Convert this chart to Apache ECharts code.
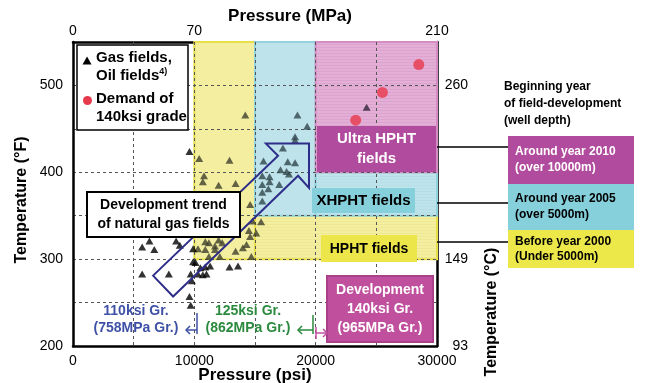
<!DOCTYPE html>
<html><head><meta charset="utf-8">
<script src="https://cdn.jsdelivr.net/npm/echarts@6/dist/echarts.min.js"></script>
<style>html,body{margin:0;padding:0;background:#fff}#c{width:653px;height:383px}</style>
</head><body><div id="c"></div>
<script>
// ---------- DATA ----------
const gasFieldPsi = [9600,10400,12900,14200,10800,10700,12000,13400,14600,
  18500,19300,18300,18300,17300,15700,17700,18300,17100,17600,17800,16200,15600,16200,17000,15600,16100,15600,15600,
  14800,15500,14500,15100,14600,14300,14000,14700,13400,12100,10900,11200,12000,12300,11700,10300,10900,11700,11200,
  9900,5700,6300,6700,8500,8800,5700,7900,9700,10300,11000,9800,9900,10500,10900,11300,12900,13600,9600,9700,10700,10100,
  24200];
const gasFieldTempF = [424,416,414,466,396,389,385,387,363,
  466,453,441,437,428,413,412,411,403,401,398,395,396,389,386,386,381,377,367,
  344,343,333,330,326,317,313,303,309,303,320,319,322,319,315,312,311,311,303,
  312,314,321,311,321,316,283,283,283,283,283,275,297,290,291,292,291,292,257,247,282,296,
  475];
const demandPsi = [28500,25500,23300];
const demandTempF = [524,492,460];

const psiTickAt = [0,10000,20000,30000];
const psiTickLabels = ['0','10000','20000','30000'];
const mpaTickAt = [0,10000,30000];
const mpaTickLabels = ['0','70','210'];
const tempFTickAt = [200,300,400,500];
const tempFTickLabels = ['200','300','400','500'];
const tempCTickAt = [200,300,500];
const tempCTickLabels = ['93','149','260'];

// field zones (psi / degF)
const zoneNames     = ['HPHT','HPHT','XHPHT','XHPHT','Ultra HPHT'];
const zonePsiFrom   = [10000,15000,15000,20000,20000];
const zonePsiTo     = [15000,30000,20000,30000,30000];
const zoneTempFrom  = [300,300,350,350,400];
const zoneTempTo    = [550,350,550,400,550];
const zoneStriped   = [false,true,false,true,true];

// development-trend arrow outline (psi / degF)
const trendPsi   = [6600,16900,15900,19450,19450,18550,8250];
const trendTempF = [281,419,433,433,382,396,257];

// ---------- STYLE ----------
const FONT = 'Liberation Sans, Arial, sans-serif';
const zoneFill   = {'HPHT':'#f4efa0','XHPHT':'#bfe3eb','Ultra HPHT':'#e3afd6'};
const zoneStripe = {'HPHT':'#efe892','XHPHT':'#b5dee7','Ultra HPHT':'#dba3cd'};
const zoneStroke = {'HPHT':'#e8de48','XHPHT':'#92d3e0','Ultra HPHT':'#d58cc4'};
const zoneMark   = {'HPHT':'#3e3e2c','XHPHT':'#2f464b','Ultra HPHT':'#30243a'};

function stripePattern(base, stripe){
  const cv = document.createElement('canvas'); cv.width = 4; cv.height = 3;
  const g = cv.getContext('2d'); g.fillStyle = base; g.fillRect(0,0,4,3);
  g.fillStyle = stripe; g.fillRect(0,2,4,1);
  return {image: cv, repeat: 'repeat'};
}
function zoneOf(x,y){
  for (let i=0;i<zoneNames.length;i++){
    if (x>=zonePsiFrom[i] && x<=zonePsiTo[i] && y>=zoneTempFrom[i] && y<=zoneTempTo[i]) return zoneNames[i];
  }
  return null;
}
function tickFmt(at, labels){ return v => { const i = at.indexOf(v); return i<0 ? '' : labels[i]; }; }

const chart = echarts.init(document.getElementById('c'), null, {renderer:'canvas'});

const txt = (x,y,text,opt) => Object.assign({type:'text', x, y, z:20, silent:true,
  style: Object.assign({text, fontFamily:FONT, fontSize:14, fontWeight:'bold', fill:'#000', align:'center', verticalAlign:'middle'}, opt||{})});
const rect = (x,y,w,h,fill,stroke,lw) => ({type:'rect', z:19, silent:true, shape:{x,y,width:w,height:h},
  style:{fill, stroke: stroke||null, lineWidth: lw||0}});
const line = (pts,color,lw) => ({type:'polyline', z:20, silent:true, shape:{points:pts}, style:{stroke:color, lineWidth:lw||1.5, fill:null}});

const option = {
  animation:false,
  textStyle:{fontFamily:FONT},
  grid:{left:73, right:216, top:42, bottom:37, containLabel:false},
  xAxis:[
    {type:'value', min:0, max:30000, interval:5000, position:'bottom', z:2,
     axisLine:{show:true, onZero:false, lineStyle:{color:'#000', width:2.5}}, axisTick:{show:false},
     axisLabel:{formatter:tickFmt(psiTickAt,psiTickLabels), color:'#000', fontSize:14, margin:8, fontFamily:FONT},
     splitLine:{show:true, showMinLine:false, showMaxLine:false, lineStyle:{color:'#555', type:[3,3], width:1}}},
    {type:'value', min:0, max:30000, interval:5000, position:'top', z:0,
     axisLine:{show:true, onZero:false, lineStyle:{color:'#000', width:2.5}}, axisTick:{show:false},
     axisLabel:{formatter:tickFmt(mpaTickAt,mpaTickLabels), color:'#000', fontSize:14, margin:4, fontFamily:FONT},
     splitLine:{show:false}}
  ],
  yAxis:[
    {type:'value', min:200, max:550, interval:50, position:'left', z:2,
     axisLine:{show:true, onZero:false, lineStyle:{color:'#000', width:2.5}}, axisTick:{show:false},
     axisLabel:{formatter:tickFmt(tempFTickAt,tempFTickLabels), color:'#000', fontSize:14, margin:10, fontFamily:FONT},
     splitLine:{show:true, showMinLine:false, showMaxLine:false, lineStyle:{color:'#555', type:[3,3], width:1}}},
    {type:'value', min:200, max:550, interval:50, position:'right', z:0,
     axisLine:{show:true, onZero:false, lineStyle:{color:'#000', width:2.5}}, axisTick:{show:false},
     axisLabel:{formatter:tickFmt(tempCTickAt,tempCTickLabels), color:'#000', fontSize:14, margin:31, align:'right', fontFamily:FONT},
     splitLine:{show:false}}
  ],
  series:[
    {type:'custom', z:1, silent:true, xAxisIndex:0, yAxisIndex:0,
     encode:{x:[0,1], y:[2,3]},
     data: zoneNames.map((n,i)=>[zonePsiFrom[i], zonePsiTo[i], zoneTempFrom[i], zoneTempTo[i], i]),
     renderItem:(params, api)=>{
       const i = api.value(4), n = zoneNames[i];
       const a = api.coord([api.value(0), api.value(3)]);
       const b = api.coord([api.value(1), api.value(2)]);
       const fill = zoneStriped[i] ? stripePattern(zoneFill[n], zoneStripe[n]) : zoneFill[n];
       return {type:'rect', shape:{x:a[0], y:a[1], width:b[0]-a[0], height:b[1]-a[1]},
               style:{fill, stroke:zoneStroke[n], lineWidth:2}};
     }},
    {type:'scatter', z:5, silent:true, symbol:'triangle', symbolSize:[8,7],
     data: gasFieldPsi.map((x,i)=>[x, gasFieldTempF[i]]),
     itemStyle:{color: p => { const z = zoneOf(p.value[0], p.value[1]); return z ? zoneMark[z] : '#000'; }}},
    {type:'scatter', z:5, silent:true, symbol:'circle', symbolSize:11,
     data: demandPsi.map((x,i)=>[x, demandTempF[i]]),
     itemStyle:{color:'#e8384c'}},
    {type:'custom', z:6, silent:true,
     data: trendPsi.map((x,i)=>[x, trendTempF[i]]),
     renderItem:(params, api)=>{
       if (params.dataIndex !== 0) return null;
       const pts = trendPsi.map((x,i)=>api.coord([x, trendTempF[i]]));
       return {type:'polygon', shape:{points:pts}, style:{fill:'none', stroke:'#2e2e8a', lineWidth:2}};
     }}
  ],
  graphic:[
    // axis titles
    txt(290,16,'Pressure (MPa)',{fontSize:17}),
    txt(255,375,'Pressure (psi)',{fontSize:17}),
    Object.assign(txt(22,200,'Temperature (°F)',{fontSize:16}),{rotation:Math.PI/2}),
    Object.assign(txt(492,312,'Temperature (°C)',{fontSize:16}),{rotation:Math.PI/2}),
    // legend
    rect(77,45,111,85,'#fff','#000',1.5),
    {type:'polygon', z:20, silent:true, shape:{points:[[82.5,64.5],[87,56.5],[91.5,64.5]]}, style:{fill:'#000'}},
    {type:'circle', z:20, silent:true, shape:{cx:87.5, cy:100.5, r:4.5}, style:{fill:'#e8384c'}},
    txt(96,67,'Gas fields,\nOil fields{sup|4)}',{align:'left', fontSize:15, lineHeight:18,
        rich:{sup:{fontSize:9, fontWeight:'bold', fontFamily:FONT, verticalAlign:'top', lineHeight:12}}}),
    txt(96,108,'Demand of\n140ksi grade',{align:'left', fontSize:15, lineHeight:18}),
    // trend box
    rect(87,192,153,45,'#fff','#000',2),
    txt(163.5,214.5,'Development trend\nof natural gas fields',{fontSize:14, lineHeight:19}),
    // zone labels
    rect(317,126,119,46,'#b14b9d'),
    txt(376.5,149,'Ultra HPHT\nfields',{fontSize:15, fill:'#fff', lineHeight:20}),
    rect(312,188,103,25,'#86d0dc'),
    txt(363.5,201,'XHPHT fields',{fontSize:15}),
    rect(321,235,96,27,'#ece64b'),
    txt(369,249,'HPHT fields',{fontSize:14}),
    // development box
    rect(327,276,106,66,'#c0509d','#a8408a',2),
    txt(380,309,'Development\n140ksi Gr.\n(965MPa Gr.)',{fontSize:14, fill:'#fff', lineHeight:19}),
    // right side key
    txt(504,104,'Beginning year\nof field-development\n(well depth)',{align:'left', fontSize:12, lineHeight:17}),
    rect(508,136,126,48,'#b14b9d'),
    txt(515,160,'Around year 2010\n(over 10000m)',{align:'left', fontSize:12, fill:'#fff', lineHeight:16}),
    rect(508,184,126,46,'#86d0dc'),
    txt(515,207,'Around year 2005\n(over 5000m)',{align:'left', fontSize:12, lineHeight:16}),
    rect(508,230,126,38,'#ede84a'),
    txt(515,249,'Before year 2000\n(Under 5000m)',{align:'left', fontSize:12, lineHeight:15}),
    line([[437,147],[508,147]],'#000',1.5),
    line([[437,203],[508,203]],'#000',1.5),
    line([[437,242],[508,242]],'#000',1.5),
    // grade annotations
    txt(136,320,'110ksi Gr.\n(758MPa Gr.)',{fontSize:14, fill:'#3f51a6', lineHeight:17}),
    txt(248,320,'125ksi Gr.\n(862MPa Gr.)',{fontSize:14, fill:'#2b8a3e', lineHeight:17}),
    line([[197,313],[197,334]],'#3f51a6',1.5),
    line([[197,330],[186,330]],'#3f51a6',1.5),
    line([[190,326],[186,330],[190,334]],'#3f51a6',1.5),
    line([[313,315],[313,334]],'#2b8a3e',1.5),
    line([[313,330],[298,330]],'#2b8a3e',1.5),
    line([[302,326],[298,330],[302,334]],'#2b8a3e',1.5),
    line([[316,327],[316,339]],'#c14fa0',1.5),
    line([[316,333],[327,333]],'#c14fa0',1.5),
    line([[323,329],[327,333],[323,337]],'#c14fa0',1.5)
  ]
};
chart.setOption(option);
</script></body></html>
